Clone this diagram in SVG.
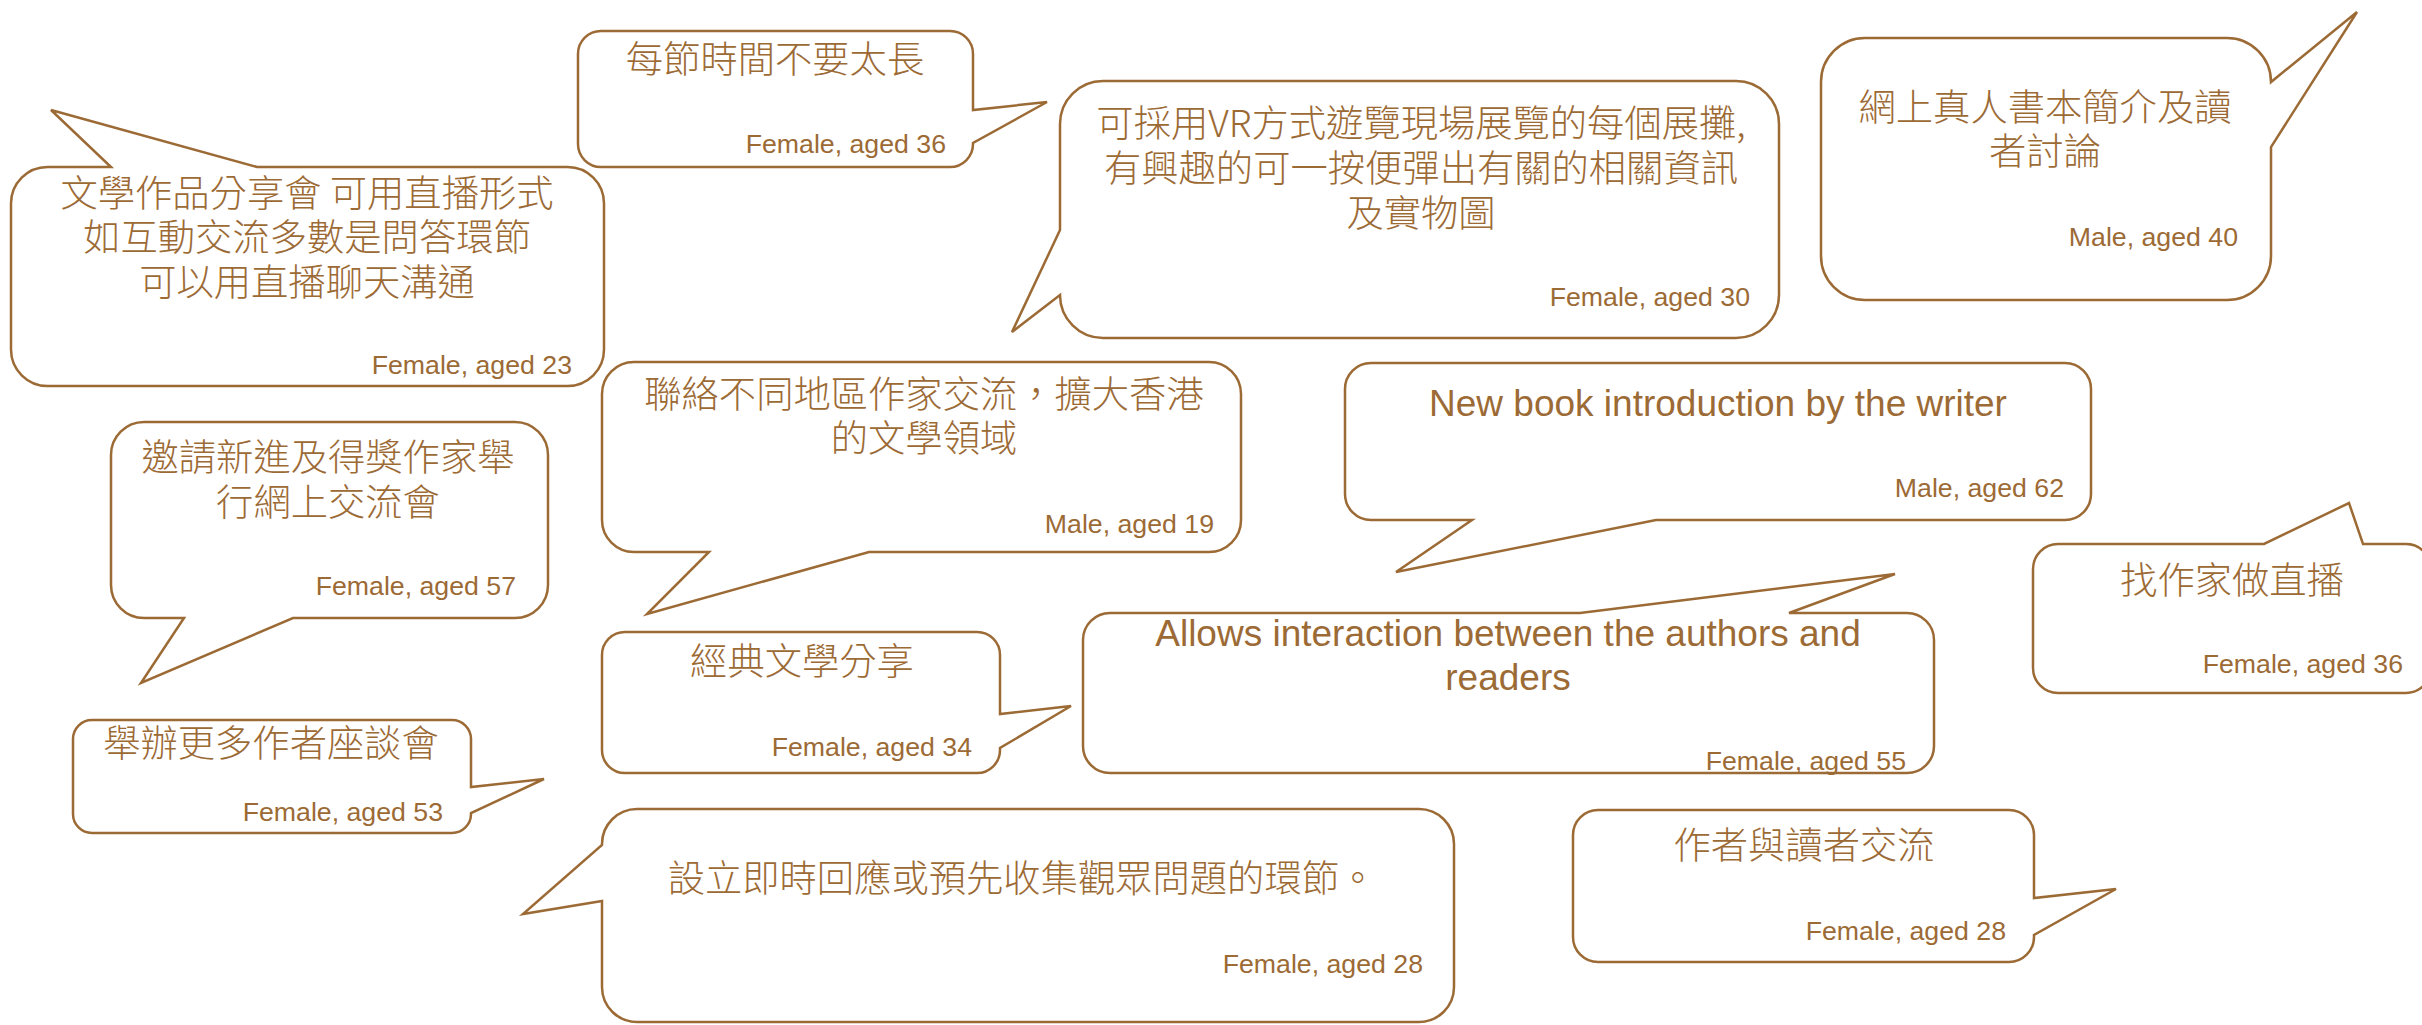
<svg xmlns="http://www.w3.org/2000/svg" width="2422" height="1025" viewBox="0 0 2422 1025">
<style>
.b{fill:#fff;stroke:#9C6A35;stroke-width:2.5;stroke-linejoin:miter}
.t{font-family:"Noto Sans CJK TC","Noto Sans CJK SC",sans-serif;font-weight:300;font-size:37.3px;fill:#9C6A35;text-anchor:middle}
.e{font-family:"Liberation Sans",Arial,sans-serif;font-size:37px;fill:#9C6A35;text-anchor:middle}
.l{font-family:"Liberation Sans",Arial,sans-serif;font-size:26.7px;fill:#9C6A35;text-anchor:end}
</style>
<rect width="2422" height="1025" fill="#fff"/>
<g id="bubble-a">
<path class="b" d="M47.5,167 L111,167 L51,110 L257,167 L567.5,167 A36.5,36.5 0 0 1 604,203.5 L604,349.5 A36.5,36.5 0 0 1 567.5,386 L47.5,386 A36.5,36.5 0 0 1 11,349.5 L11,203.5 A36.5,36.5 0 0 1 47.5,167 Z"/>
<text class="t" x="307" y="207">文學作品分享會 可用直播形式</text>
<text class="t" x="307" y="251">如互動交流多數是問答環節</text>
<text class="t" x="307" y="296">可以用直播聊天溝通</text>
<text class="l" x="572" y="374">Female, aged 23</text>
</g>
<g id="bubble-b">
<path class="b" d="M601,31 L950,31 A23,23 0 0 1 973,54 L973,110 L1047,102 L973,143 L973,144 A23,23 0 0 1 950,167 L601,167 A23,23 0 0 1 578,144 L578,54 A23,23 0 0 1 601,31 Z"/>
<text class="t" x="775" y="73">每節時間不要太長</text>
<text class="l" x="946" y="153">Female, aged 36</text>
</g>
<g id="bubble-c">
<path class="b" d="M1103,81 L1736,81 A43,43 0 0 1 1779,124 L1779,295 A43,43 0 0 1 1736,338 L1103,338 A43,43 0 0 1 1060,295 L1012,332 L1060,230 L1060,124 A43,43 0 0 1 1103,81 Z"/>
<text class="t" x="1421" y="137">可採用VR方式遊覽現場展覽的每個展攤,</text>
<text class="t" x="1421" y="182">有興趣的可一按便彈出有關的相關資訊</text>
<text class="t" x="1421" y="227">及實物圖</text>
<text class="l" x="1750" y="306">Female, aged 30</text>
</g>
<g id="bubble-d">
<path class="b" d="M1865,38 L2227,38 A44,44 0 0 1 2271,82 L2357,12 L2271,147 L2271,256 A44,44 0 0 1 2227,300 L1865,300 A44,44 0 0 1 1821,256 L1821,82 A44,44 0 0 1 1865,38 Z"/>
<text class="t" x="2045" y="121">網上真人書本簡介及讀</text>
<text class="t" x="2045" y="165">者討論</text>
<text class="l" x="2238" y="246">Male, aged 40</text>
</g>
<g id="bubble-e">
<path class="b" d="M144,422 L515,422 A33,33 0 0 1 548,455 L548,585 A33,33 0 0 1 515,618 L293,618 L141,683 L184,618 L144,618 A33,33 0 0 1 111,585 L111,455 A33,33 0 0 1 144,422 Z"/>
<text class="t" x="328" y="471">邀請新進及得獎作家舉</text>
<text class="t" x="328" y="516">行網上交流會</text>
<text class="l" x="516" y="595">Female, aged 57</text>
</g>
<g id="bubble-f">
<path class="b" d="M92,720 L452,720 A19,19 0 0 1 471,739 L471,787 L544,779 L471,813 L471,814 A19,19 0 0 1 452,833 L92,833 A19,19 0 0 1 73,814 L73,739 A19,19 0 0 1 92,720 Z"/>
<text class="t" x="271" y="757">舉辦更多作者座談會</text>
<text class="l" x="443" y="821">Female, aged 53</text>
</g>
<g id="bubble-g">
<path class="b" d="M634,362 L1209,362 A32,32 0 0 1 1241,394 L1241,520 A32,32 0 0 1 1209,552 L869,552 L647,614 L709,552 L634,552 A32,32 0 0 1 602,520 L602,394 A32,32 0 0 1 634,362 Z"/>
<text class="t" x="924" y="408">聯絡不同地區作家交流，擴大香港</text>
<text class="t" x="924" y="452">的文學領域</text>
<text class="l" x="1214" y="533">Male, aged 19</text>
</g>
<g id="bubble-h">
<path class="b" d="M625,632 L977,632 A23,23 0 0 1 1000,655 L1000,714 L1071,706 L1000,748 L1000,750 A23,23 0 0 1 977,773 L625,773 A23,23 0 0 1 602,750 L602,655 A23,23 0 0 1 625,632 Z"/>
<text class="t" x="802" y="675">經典文學分享</text>
<text class="l" x="972" y="756">Female, aged 34</text>
</g>
<g id="bubble-i">
<path class="b" d="M1110,613 L1580,613 L1895,574 L1789,613 L1907,613 A27,27 0 0 1 1934,640 L1934,746 A27,27 0 0 1 1907,773 L1110,773 A27,27 0 0 1 1083,746 L1083,640 A27,27 0 0 1 1110,613 Z"/>
<text class="e" x="1508" y="646">Allows interaction between the authors and</text>
<text class="e" x="1508" y="690">readers</text>
<text class="l" x="1906" y="770">Female, aged 55</text>
</g>
<g id="bubble-j">
<path class="b" d="M1371,363 L2065,363 A26,26 0 0 1 2091,389 L2091,494 A26,26 0 0 1 2065,520 L1656,520 L1396,572 L1472,520 L1371,520 A26,26 0 0 1 1345,494 L1345,389 A26,26 0 0 1 1371,363 Z"/>
<text class="e" x="1718" y="416">New book introduction by the writer</text>
<text class="l" x="2064" y="497">Male, aged 62</text>
</g>
<g id="bubble-k">
<path class="b" d="M2058,544 L2264,544 L2349,503 L2363,544 L2406,544 A25,25 0 0 1 2431,569 L2431,668 A25,25 0 0 1 2406,693 L2058,693 A25,25 0 0 1 2033,668 L2033,569 A25,25 0 0 1 2058,544 Z"/>
<text class="t" x="2232" y="594">找作家做直播</text>
<text class="l" x="2403" y="673">Female, aged 36</text>
</g>
<g id="bubble-l">
<path class="b" d="M637,809 L1419,809 A35,35 0 0 1 1454,844 L1454,987 A35,35 0 0 1 1419,1022 L637,1022 A35,35 0 0 1 602,987 L602,901 L523,914 L602,845 L602,844 A35,35 0 0 1 637,809 Z"/>
<text class="t" x="1022" y="892">設立即時回應或預先收集觀眾問題的環節。</text>
<text class="l" x="1423" y="973">Female, aged 28</text>
</g>
<g id="bubble-m">
<path class="b" d="M1598,810 L2009,810 A25,25 0 0 1 2034,835 L2034,898 L2116,889 L2034,935 L2034,937 A25,25 0 0 1 2009,962 L1598,962 A25,25 0 0 1 1573,937 L1573,835 A25,25 0 0 1 1598,810 Z"/>
<text class="t" x="1804" y="859">作者與讀者交流</text>
<text class="l" x="2006" y="940">Female, aged 28</text>
</g>
<g id="connectors"/>
</svg>
